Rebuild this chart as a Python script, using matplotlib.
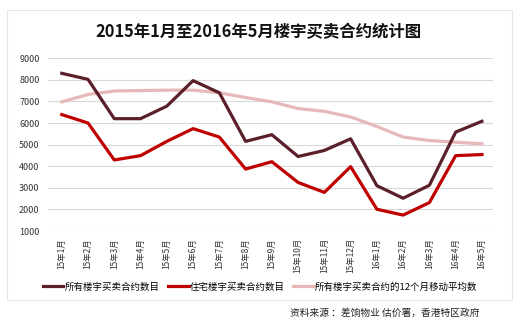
import matplotlib
matplotlib.use('Agg')
import matplotlib.pyplot as plt
from matplotlib.patches import Rectangle

plt.rcParams['font.family'] = ['Noto Sans CJK SC', 'DejaVu Sans']

months = ['15年1月', '15年2月', '15年3月', '15年4月', '15年5月', '15年6月', '15年7月',
          '15年8月', '15年9月', '15年10月', '15年11月', '15年12月', '16年1月', '16年2月',
          '16年3月', '16年4月', '16年5月']

all_contracts = [8300, 8020, 6200, 6200, 6780, 7960, 7400, 5150, 5460, 4450, 4730,
                 5270, 3100, 2520, 3120, 5580, 6080]
residential = [6390, 6000, 4290, 4490, 5150, 5740, 5350, 3870, 4210, 3250, 2790,
               3980, 2010, 1740, 2320, 4490, 4540]
moving_avg = [6980, 7320, 7480, 7500, 7520, 7520, 7400, 7180, 6980, 6670, 6540,
              6280, 5840, 5350, 5190, 5110, 5040]

fig = plt.figure(figsize=(5.2, 3.25), dpi=100)
ax = fig.add_axes([0.092, 0.289, 0.856, 0.532])

x = range(len(months))
ax.plot(x, all_contracts, color='#5b1f2a', lw=2.3, label='所有楼宇买卖合约数目', zorder=3)
ax.plot(x, residential, color='#c00000', lw=2.3, label='住宅楼宇买卖合约数目', zorder=3)
ax.plot(x, moving_avg, color='#e6b9b8', lw=2.3, label='所有楼宇买卖合约的12个月移动平均数', zorder=2)

ax.set_xlim(-0.53, 16.42)
ax.set_ylim(1000, 9000)
ax.set_yticks(range(1000, 9001, 1000))
ax.set_xticks(list(x))
ax.set_xticklabels(months, rotation=90, fontsize=6, color='#333333')
ax.tick_params(axis='y', labelsize=6.5, colors='#333333', length=0, pad=6)
ax.tick_params(axis='x', length=0, pad=5)
ax.grid(axis='y', color='#d9d9d9', lw=0.8)
ax.set_axisbelow(True)
for s in ax.spines.values():
    s.set_visible(False)

fig.text(0.497, 1 - 32 / 325, '2015年1月至2016年5月楼宇买卖合约统计图',
         ha='center', va='center', fontsize=11.8, fontweight='bold', color='#111111')

fig.legend(loc='center', bbox_to_anchor=(0.5, 1 - 287 / 325), ncol=3, frameon=False,
           fontsize=6.8, handlelength=2.2, handletextpad=0.1, columnspacing=0.9)

fig.text(480 / 520, 1 - 313 / 325, '资料来源 ：差饷物业 估价署，香港特区政府',
         ha='right', va='center', fontsize=7, color='#222222')

fig.patches.append(Rectangle((7 / 520, 1 - 300 / 325), 505 / 520, 290 / 325,
                             transform=fig.transFigure, fill=False,
                             edgecolor='#e6e6e6', lw=0.8))

fig.savefig('out.png', dpi=100)
